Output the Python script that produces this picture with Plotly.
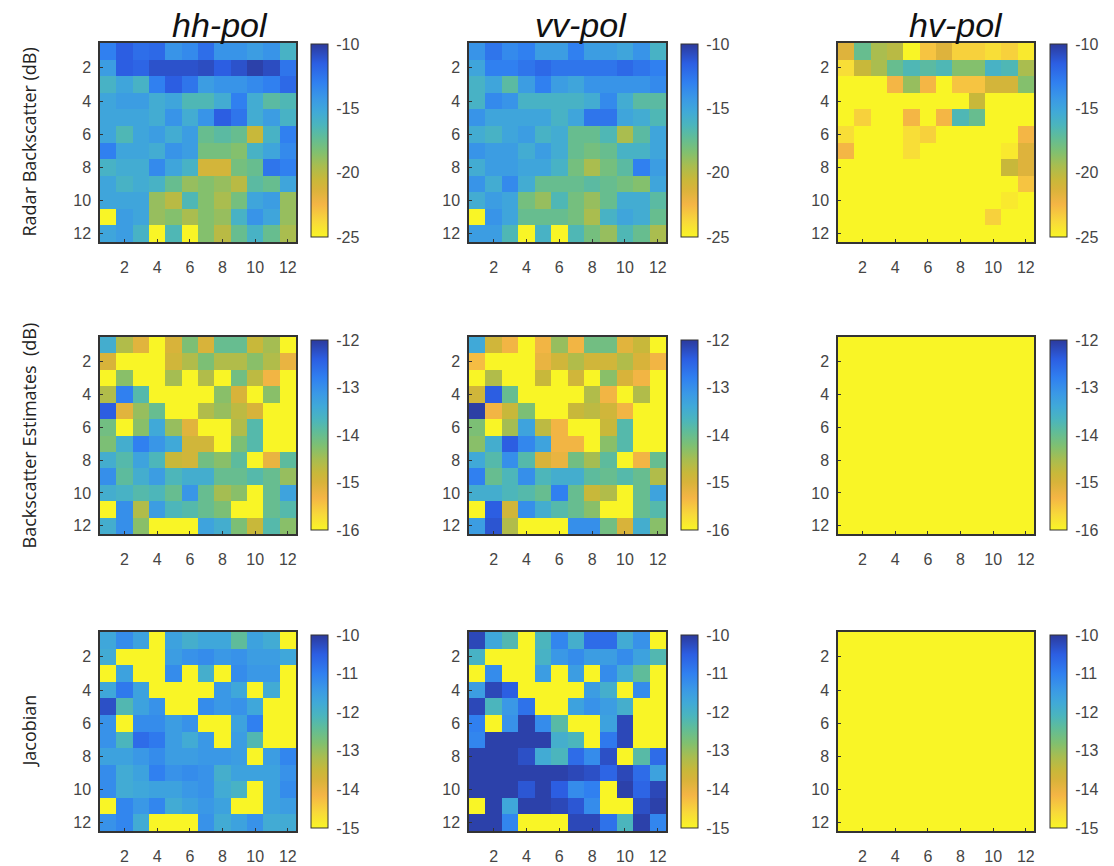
import plotly.graph_objects as go

# ---------------- data ----------------
ticks = [2, 4, 6, 8, 10, 12]
tick_text = ["2", "4", "6", "8", "10", "12"]
cols_titles = ["hh-pol", "vv-pol", "hv-pol"]
row_titles = ["Radar Backscatter (dB)", "Backscatter Estimates  (dB)", "Jacobian"]

radar_hh = [
    [-13, -11.5, -12.2, -12, -14, -13.5, -12.2, -14, -14, -14.5, -14, -16],
    [-14.5, -11.5, -11.8, -11, -11, -11, -10.8, -11.5, -11, -10.3, -10.8, -12.5],
    [-16, -15, -16, -13, -11.5, -12.5, -14.5, -14, -14, -13.5, -13, -12],
    [-15, -14.5, -14.5, -15.5, -15, -16.5, -16.5, -15.5, -13, -15.5, -17, -16.5],
    [-15, -15, -15, -15.5, -14, -15.5, -14, -11.5, -12.5, -15.5, -14.5, -16],
    [-15, -16.5, -15, -14.5, -15.5, -14.5, -17.5, -17, -17.5, -20.5, -16, -13],
    [-13, -15, -15, -15.5, -14, -14.5, -18, -18, -18.5, -16, -15, -13.5],
    [-16, -15.5, -15.5, -13.5, -15, -16, -21, -21, -18, -17.5, -12.5, -13],
    [-15, -16, -15.5, -16, -17.5, -19, -18.5, -19, -20, -17, -17.5, -15],
    [-15, -15, -15, -19, -20, -16.5, -18.5, -19.5, -18, -15, -14.5, -19],
    [-25, -14.5, -15, -19, -18.5, -19.5, -18.5, -19, -16, -14, -15, -19],
    [-15, -14.5, -16, -25, -16.5, -25, -18.5, -20, -17.5, -16, -17.5, -19.5],
]
radar_vv = [
    [-14, -12.5, -13.5, -13, -14.5, -14.5, -13, -14.5, -14.5, -15, -14, -16],
    [-15, -13, -13, -12.5, -12, -12.5, -12.5, -12.5, -12.5, -12, -12.5, -13],
    [-16, -15, -17, -14.5, -13, -14.5, -15, -14, -14, -14, -14, -13.5],
    [-16, -13.5, -14, -16, -16, -16, -16, -15.5, -13.5, -15.5, -17, -17],
    [-14, -15, -15, -15, -15, -16, -15, -12.5, -12.5, -15, -15.5, -16.5],
    [-15.5, -16, -15, -14.5, -16, -15.5, -17.5, -17.5, -16.5, -19.5, -17, -15],
    [-14, -14.5, -14.5, -15.5, -14.5, -15.5, -17.5, -18, -17.5, -16, -16, -15],
    [-15.5, -14.5, -14.5, -15, -15, -16, -18, -19.5, -18, -17, -13, -14.5],
    [-14, -15.5, -13.5, -15.5, -17.5, -17.5, -17.5, -17, -17.5, -18, -18.5, -15],
    [-15.5, -14.5, -15, -18, -19, -16.5, -18, -19, -17.5, -15.5, -15.5, -17],
    [-25, -14, -15, -17.5, -17.5, -17.5, -18, -19.5, -16, -15, -15.5, -17.5],
    [-14.5, -14.5, -16.5, -25, -16, -25, -16.5, -18, -19, -16.5, -17.5, -19.5],
]
radar_hv = [
    [-21.5, -17.5, -19.5, -20, -25, -23, -21.5, -23.5, -23.5, -24, -23.5, -24.5],
    [-24, -20.5, -19.5, -17.5, -16.5, -17, -16.5, -18.5, -18.5, -16, -16.5, -19.5],
    [-25, -25, -25, -22.5, -19, -22.5, -25, -23, -23, -21, -21, -18.5],
    [-25, -25, -25, -25, -25, -25, -25, -25, -20.5, -25, -25, -25],
    [-25, -23.5, -25, -25, -22.5, -25, -22.5, -16.5, -17.5, -25, -25, -25],
    [-24, -25, -25, -25, -24, -23.5, -25, -25, -25, -25, -25, -22.5],
    [-22.5, -25, -25, -25, -24, -25, -25, -25, -25, -25, -24.5, -21.5],
    [-25, -25, -25, -25, -25, -25, -25, -25, -25, -25, -20.5, -21.5],
    [-25, -25, -25, -25, -25, -25, -25, -25, -25, -25, -25, -23],
    [-25, -25, -25, -25, -25, -25, -25, -25, -25, -25, -24.5, -25],
    [-25, -25, -25, -25, -25, -25, -25, -25, -25, -23.5, -25, -25],
    [-25, -25, -25, -25, -25, -25, -25, -25, -25, -25, -25, -25],
]
est_hh = [
    [-13.5, -14.6, -15.1, -16, -15, -14.2, -15, -14, -14, -14.8, -14.5, -16],
    [-15, -16, -16, -16, -14.9, -14.6, -14.2, -14.6, -14.6, -14.3, -14.6, -15.2],
    [-16, -14.3, -16, -16, -14.5, -16, -14.6, -16, -14.1, -14.7, -15.3, -16],
    [-14.6, -12.8, -13.8, -16, -16, -16, -16, -14.3, -15, -16, -14.3, -16],
    [-12.4, -15.1, -14.4, -14, -16, -16, -14.6, -14.4, -14.7, -15, -16, -16],
    [-14.1, -16, -14.3, -13.4, -14.4, -15.1, -16, -16, -14.6, -13.8, -16, -16],
    [-14.2, -13.5, -12.8, -13.1, -13.4, -14.9, -14.9, -16, -14.2, -13.8, -16, -16],
    [-13.5, -13.8, -13.3, -13.7, -14.8, -14.9, -14.1, -14.3, -13.9, -16, -15.2, -13.9],
    [-13, -13.9, -13.5, -13.2, -13.7, -13.5, -13.5, -14, -14, -13.8, -14, -14.4],
    [-13.5, -13.6, -13.8, -13.7, -14, -13.1, -14, -14.5, -14.3, -16, -14, -13.3],
    [-16, -13, -14.6, -13.2, -13.7, -13.8, -14, -14.2, -16, -16, -14, -13.8],
    [-13.5, -13, -14.3, -16, -16, -16, -13.3, -13.5, -14.2, -14.8, -13.8, -14.3],
]
est_vv = [
    [-13.4, -14.9, -15.3, -16, -15.3, -14.4, -15.3, -14.1, -14.1, -15.1, -14.8, -16],
    [-15.4, -16, -16, -16, -15.2, -14.9, -14.6, -14.9, -14.9, -14.6, -15, -15.3],
    [-16, -14.6, -16, -16, -14.8, -16, -14.9, -16, -14.3, -15, -15.3, -16],
    [-14.9, -12.4, -14, -16, -16, -16, -16, -14.6, -15.3, -16, -14.6, -16],
    [-12.05, -15.3, -14.8, -14.2, -16, -16, -14.8, -14.7, -14.9, -15.3, -16, -16],
    [-14.2, -16, -14.5, -13.3, -14.7, -15.3, -16, -16, -14.8, -13.8, -16, -16],
    [-14.3, -13.5, -12.4, -12.9, -13.3, -15.3, -15.3, -16, -14.3, -13.8, -16, -16],
    [-13.4, -13.8, -13, -13.8, -15, -15.2, -14.1, -14.5, -13.9, -16, -15.3, -14],
    [-12.8, -14, -13.7, -13, -13.7, -13.5, -13.5, -13.9, -14, -13.8, -14, -14.6],
    [-13.5, -13.5, -13.7, -13.8, -14, -12.8, -14, -14.8, -14.6, -16, -14, -13.3],
    [-16, -12.4, -14.9, -13, -13.5, -13.8, -14, -14.3, -16, -16, -14, -13.8],
    [-13.2, -12.3, -14.6, -16, -16, -16, -13, -13, -14.1, -15, -13.5, -14.3],
]
est_hv = [[-16] * 12 for _ in range(12)]
jac_hh = [
    [-11.7, -11.2, -11.6, -15, -11.6, -11.9, -11.7, -11.7, -12.4, -11.6, -11.8, -15],
    [-11.8, -15, -15, -15, -11.5, -11.3, -11.2, -11.4, -11.3, -11.5, -11.5, -11.7],
    [-15, -11.6, -15, -15, -11.2, -15, -11.9, -15, -11.2, -11.4, -11.4, -15],
    [-11.7, -10.9, -11.6, -15, -15, -15, -15, -11.4, -11.7, -15, -11.8, -15],
    [-10.3, -12.2, -11.6, -11.3, -15, -15, -11.2, -11.4, -11.3, -11.7, -15, -15],
    [-11.3, -15, -11.2, -11.2, -11.5, -11.3, -15, -15, -11.6, -11.0, -15, -15],
    [-11.3, -12.1, -10.7, -10.9, -11.5, -11.8, -11.4, -15, -11.5, -12.2, -15, -15],
    [-11.6, -11.6, -11.4, -11.2, -11.5, -11.5, -11.4, -11.4, -11.5, -15, -11.5, -11.1],
    [-11.2, -11.8, -11.6, -11.0, -11.3, -11.2, -11.3, -11.9, -11.6, -11.6, -11.6, -11.3],
    [-11.2, -11.8, -11.7, -11.6, -11.6, -11.4, -11.3, -11.8, -12, -15, -11.6, -11.2],
    [-15, -11.1, -11.4, -11.1, -11.8, -11.6, -11.4, -11.6, -15, -15, -11.6, -11.5],
    [-11.3, -11.1, -11.8, -15, -15, -15, -11.3, -11.8, -11.6, -11.3, -11.8, -11.8],
]
jac_vv = [
    [-10.2, -11.7, -12.2, -15, -12.1, -11.1, -11.9, -10.7, -10.7, -11.8, -11.3, -15],
    [-12, -15, -15, -15, -12, -11.4, -11.2, -11.5, -11.5, -11.2, -11.6, -12.2],
    [-15, -11.2, -15, -15, -11.5, -15, -11.5, -15, -11.2, -11.8, -12.4, -15],
    [-11.5, -10.2, -10.5, -15, -15, -15, -15, -11.5, -11.9, -15, -11.2, -15],
    [-10.2, -12.1, -11.4, -10.8, -15, -15, -11.6, -11.3, -11.5, -11.9, -15, -15],
    [-11, -15, -11.3, -10.1, -11.2, -12.3, -15, -15, -11.6, -10.2, -15, -15],
    [-11.1, -10.1, -10.1, -10.1, -10.1, -11.9, -12.1, -15, -10.9, -10.2, -15, -15],
    [-10.1, -10.1, -10.1, -10.3, -11.8, -12.1, -10.7, -11.2, -10.3, -15, -12.3, -10.7],
    [-10.1, -10.1, -10.1, -10.1, -10.1, -10.1, -10.2, -10.3, -10.6, -10.2, -10.7, -11.6],
    [-10.1, -10.1, -10.1, -10.4, -10.1, -10.5, -11.2, -11.0, -15, -10.1, -10.6, -10.2],
    [-15, -10.1, -11.7, -10.1, -10.1, -10.2, -10.4, -11.2, -15, -15, -10.3, -10.1],
    [-10.1, -10.1, -11.1, -15, -15, -15, -10.2, -10.2, -10.8, -12.1, -10.1, -11.1],
]
jac_hv = [[-15] * 12 for _ in range(12)]

panels = [
    [radar_hh, radar_vv, radar_hv],
    [est_hh, est_vv, est_hv],
    [jac_hh, jac_vv, jac_hv],
]
row_ranges = [(-25, -10), (-16, -12), (-15, -10)]
row_cbticks = [[-25, -20, -15, -10], [-16, -15, -14, -13, -12], [-15, -14, -13, -12, -11, -10]]

# ---------------- style ----------------
W, H = 1114, 866
colorscale = [
    [0.00, '#f9f526'], [0.08, '#f8d93a'], [0.17, '#f4b545'], [0.25, '#d8b33a'],
    [0.30, '#c8b83a'], [0.37, '#a8bd50'], [0.44, '#80c070'], [0.52, '#5fbc9a'],
    [0.58, '#4bb5bd'], [0.65, '#40a9d8'], [0.72, '#3a98e6'], [0.80, '#3080f0'],
    [0.90, '#2c5ee2'], [1.00, '#2c3a9c'],
]
col_px = [(100, 296), (469, 666), (838, 1034)]
title_cx = [220, 581, 956]
cb_px = [311, 681, 1050]
row_px = [(43, 242), (337, 534), (632, 831)]
cb_row_px = [(44, 237), (340, 530), (635, 828)]
tick_font = dict(family="Liberation Sans, Arial, sans-serif", size=16, color="#454545")


def fx(px):
    return px / W


def fy(px):
    return 1 - px / H


fig = go.Figure()
layout = dict(width=W, height=H, margin=dict(l=0, r=0, t=0, b=0, autoexpand=False),
              paper_bgcolor="white", plot_bgcolor="white", showlegend=False)

idx = 0
for r in range(3):
    zmin, zmax = row_ranges[r]
    for c in range(3):
        idx += 1
        xa = "x" if idx == 1 else f"x{idx}"
        ya = "y" if idx == 1 else f"y{idx}"
        cb_top, cb_bot = cb_row_px[r]
        cb_len = (cb_bot - cb_top) / H
        cb_y = fy((cb_top + cb_bot) / 2)
        fig.add_trace(go.Heatmap(
            z=panels[r][c], x=list(range(1, 13)), y=list(range(1, 13)),
            xaxis=xa, yaxis=ya, zmin=zmin, zmax=zmax, colorscale=colorscale,
            colorbar=dict(x=fx(cb_px[c]), xanchor="left", xref="paper",
                          y=cb_y, yanchor="middle", len=cb_len, lenmode="fraction",
                          thickness=17, thicknessmode="pixels", xpad=0, ypad=0,
                          outlinecolor="#333", outlinewidth=1,
                          tickvals=row_cbticks[r],
                          ticktext=[str(v) for v in row_cbticks[r]],
                          ticks="outside", ticklen=5, tickcolor="white",
                          tickfont=tick_font),
        ))
        x0, x1 = col_px[c]
        y0, y1 = row_px[r]
        axkey = "xaxis" if idx == 1 else f"xaxis{idx}"
        aykey = "yaxis" if idx == 1 else f"yaxis{idx}"
        layout[axkey] = dict(domain=[fx(x0), fx(x1)], anchor=ya, range=[0.5, 12.5],
                             tickvals=ticks, ticktext=tick_text, ticks="inside", ticklen=3,
                             tickcolor="#333", ticklabelstandoff=10,
                             showline=True, mirror=True, linecolor="#333", linewidth=1.5,
                             showgrid=False, zeroline=False, tickfont=tick_font)
        layout[aykey] = dict(domain=[fy(y1), fy(y0)], anchor=xa, range=[12.5, 0.5],
                             tickvals=ticks, ticktext=tick_text, ticks="inside", ticklen=3,
                             tickcolor="#333", ticklabelstandoff=4,
                             showline=True, mirror=True, linecolor="#333", linewidth=1.5,
                             showgrid=False, zeroline=False, tickfont=tick_font)

annotations = []
for c in range(3):
    annotations.append(dict(text=f"<i>{cols_titles[c]}</i>", x=fx(title_cx[c]), y=fy(25),
                            xref="paper", yref="paper", showarrow=False,
                            font=dict(family="Liberation Sans Narrow, Arial Narrow, sans-serif",
                                      size=34, color="#111", weight="normal"),
                            xanchor="center", yanchor="middle"))
for r in range(3):
    y0, y1 = row_px[r]
    annotations.append(dict(text=row_titles[r], x=fx(28), y=fy((y0 + y1) / 2),
                            xref="paper", yref="paper", showarrow=False, textangle=-90,
                            font=dict(family="Open Sans, sans-serif", size=18, color="#222"),
                            xanchor="center", yanchor="middle"))
layout["annotations"] = annotations
fig.update_layout(**layout)
fig.write_html("out.html", config={"displayModeBar": False},
               post_script="document.body.style.margin='0';document.body.style.padding='0';")
